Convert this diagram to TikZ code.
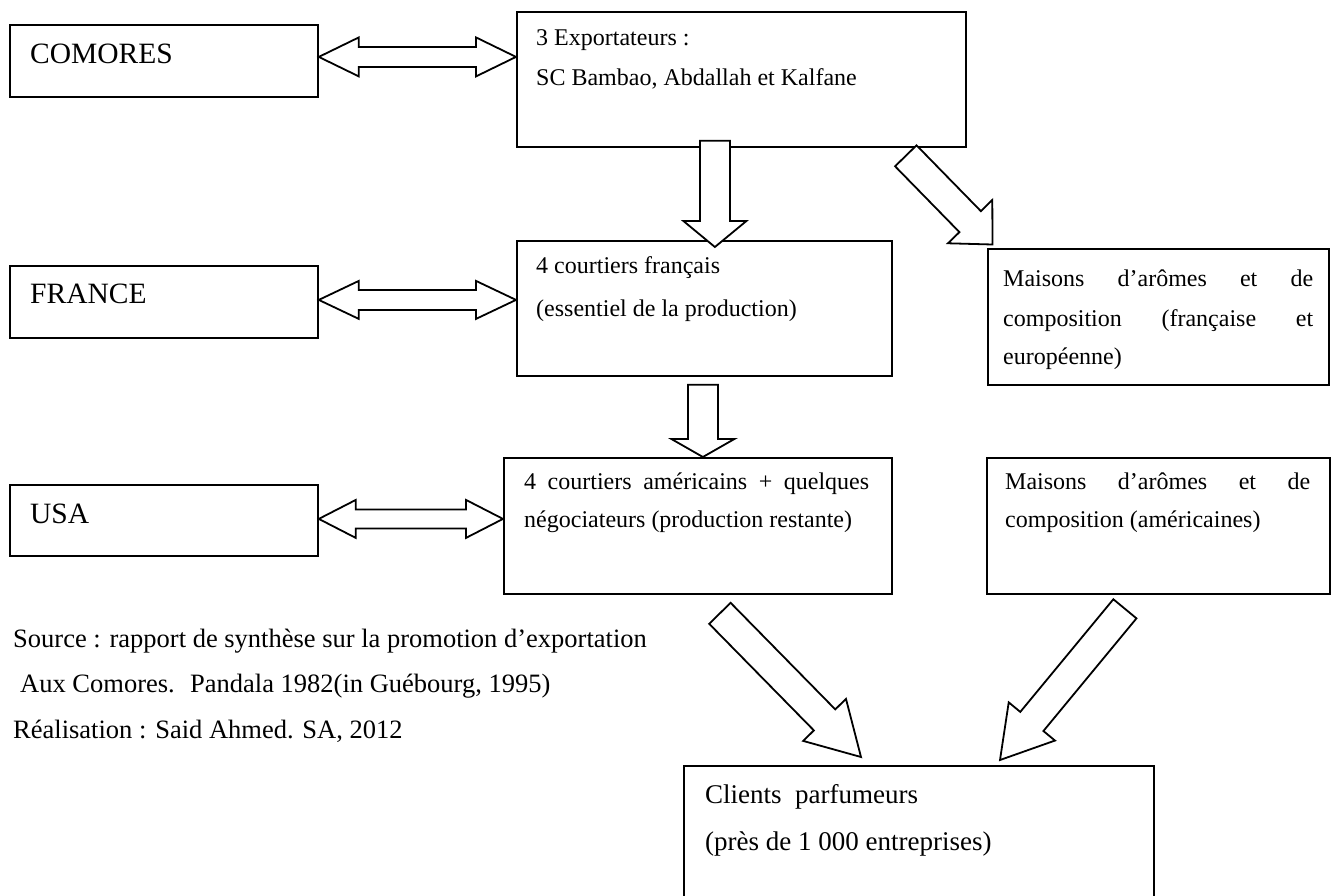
\documentclass[tikz,border=0pt]{standalone}
\usepackage{fontspec}
\setmainfont{Liberation Serif}
\usetikzlibrary{calc}
\tikzset{
  box/.style={draw, line width=1.8pt, inner sep=0pt, anchor=north west},
  txt/.style={anchor=base west, inner sep=0pt, font=\fontsize{24}{28}\selectfont},
  country/.style={anchor=base west, inner sep=0pt, font=\fontsize{29.5}{34}\selectfont},
  srctxt/.style={anchor=base west, inner sep=0pt, font=\fontsize{26.5}{30}\selectfont},
  clitxt/.style={anchor=base west, inner sep=0pt, font=\fontsize{27}{30}\selectfont},
  arr/.style={draw, line width=1.8pt, fill=white, line join=miter},
}
% block arrow: tail #1, tip #2, shaft half-width #3, head half-width #4, head length #5
\newcommand\bkarrow[5]{%
  \coordinate (bkC) at ($(#2)!#5!(#1)$);
  \draw[arr] ($(#1)!#3!90:(#2)$) -- ($(bkC)!#3!90:(#2)$) -- ($(bkC)!#4!90:(#2)$) -- (#2)
    -- ($(bkC)!#4!-90:(#2)$) -- ($(bkC)!#3!-90:(#2)$) -- ($(#1)!#3!-90:(#2)$) -- cycle;
}
% double block arrow between tips #1 and #2
\newcommand\dbarrow[5]{%
  \coordinate (dbA) at ($(#1)!#5!(#2)$);
  \coordinate (dbB) at ($(#2)!#5!(#1)$);
  \draw[arr] (#1) -- ($(dbA)!#4!90:(#2)$) -- ($(dbA)!#3!90:(#2)$) -- ($(dbB)!#3!90:(#2)$)
    -- ($(dbB)!#4!90:(#2)$) -- (#2) -- ($(dbB)!#4!-90:(#2)$) -- ($(dbB)!#3!-90:(#2)$)
    -- ($(dbA)!#3!-90:(#2)$) -- ($(dbA)!#4!-90:(#2)$) -- cycle;
}
\begin{document}
\begin{tikzpicture}[x=1pt,y=-1pt]
\useasboundingbox (0,0) rectangle (1336,895);
\fill[white] (0,0) rectangle (1336,895);

% boxes
\node[box, minimum width=308pt, minimum height=72pt] (com) at (9,24) {};
\node[box, minimum width=449pt, minimum height=135pt] (exp) at (516,11) {};
\node[box, minimum width=308pt, minimum height=72pt] (fra) at (9,265) {};
\node[box, minimum width=375pt, minimum height=135pt] (cf) at (516,240) {};
\node[box, minimum width=341pt, minimum height=136pt] (maf) at (987,248) {};
\node[box, minimum width=308pt, minimum height=71pt] (usa) at (9,484) {};
\node[box, minimum width=388pt, minimum height=136pt] (ca) at (503,457) {};
\node[box, minimum width=343pt, minimum height=136pt] (maa) at (986,457) {};
\node[box, minimum width=470pt, minimum height=134pt] (cli) at (683,765) {};

% texts
\node[country] (comT) at (30,63) {COMORES};
\node[country] (fraT) at (30,303) {FRANCE};
\node[country] (usaT) at (30,523) {USA};

\node[txt] (expT1) at (536,45) {3 Exportateurs :};
\node[txt] (expT2) at (536,85) {SC Bambao, Abdallah et Kalfane};

\node[txt] (cfT1) at (536,273) {4 courtiers français};
\node[txt] (cfT2) at (536,316) {(essentiel de la production)};

\node[txt] (mafT1) at (1003,286) {\makebox[310pt][s]{Maisons d’arômes et de}};
\node[txt] (mafT2) at (1003,326) {\makebox[310pt][s]{composition (française et}};
\node[txt] (mafT3) at (1003,364) {européenne)};

\node[txt] (caT1) at (524,489) {\makebox[345pt][s]{4 courtiers américains + quelques}};
\node[txt] (caT2) at (524,527) {négociateurs (production restante)};

\node[txt] (maaT1) at (1005,489) {\makebox[305pt][s]{Maisons d’arômes et de}};
\node[txt] (maaT2) at (1005,527) {composition (américaines)};

\node[clitxt] (cliT1) at (705,803) {Clients~ parfumeurs};
\node[clitxt] (cliT2) at (705,850) {(près de 1 000 entreprises)};

\node[srctxt] (src1) at (13,647) {Source : rapport de synthèse sur la promotion d’exportation};
\node[srctxt] (src2) at (20,692) {Aux Comores.~ Pandala 1982(in Guébourg, 1995)};
\node[srctxt] (src3) at (13,738) {Réalisation : Said Ahmed. SA, 2012};

% arrow end points
\coordinate (d1a) at ($(com.east)+(0,-4)$);
\coordinate (d1b) at (exp.west |- d1a);
\coordinate (d2a) at ($(fra.east)+(0,-2)$);
\coordinate (d2b) at (cf.west |- d2a);
\coordinate (d3a) at ($(usa.east)+(0,-1.5)$);
\coordinate (d3b) at (ca.west |- d3a);
\coordinate (v1a) at ($(exp.south)+(-26.5,-7)$);
\coordinate (v1b) at ($(cf.north)+(10.5,7)$);
\coordinate (v2a) at ($(cf.south)+(-1.5,8)$);
\coordinate (v2b) at ($(ca.north)+(5,0)$);
\coordinate (g1a) at ($(exp.south east)+(-61,8)$);
\coordinate (g1b) at ($(maf.north west)+(5.5,-3.5)$);
\coordinate (g2a) at ($(ca.south)+(22,18.5)$);
\coordinate (g2b) at ($(cli.north west)+(178,-8)$);
\coordinate (g3a) at ($(maa.south)+(-33.5,14)$);
\coordinate (g3b) at ($(cli.north west)+(317,-5)$);

% connectors
\dbarrow{d1a}{d1b}{10pt}{19.5pt}{40pt}
\dbarrow{d2a}{d2b}{10pt}{19pt}{40pt}
\dbarrow{d3a}{d3b}{9.5pt}{19pt}{37pt}
\bkarrow{v1a}{v1b}{15pt}{31.5pt}{26pt}
\bkarrow{v2a}{v2b}{15pt}{31.5pt}{18pt}
\bkarrow{g1a}{g1b}{15pt}{31pt}{32pt}
\bkarrow{g2a}{g2b}{15pt}{30pt}{52pt}
\bkarrow{g3a}{g3b}{15pt}{30pt}{50pt}
\end{tikzpicture}
\end{document}
